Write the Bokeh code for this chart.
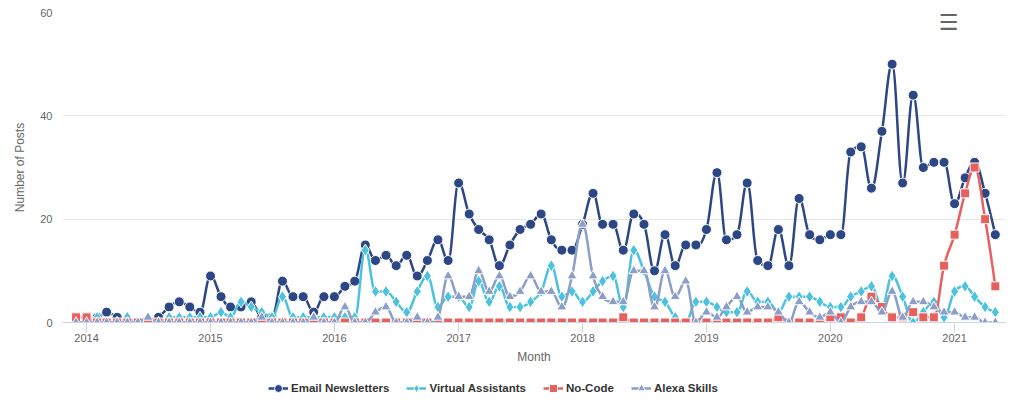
import pandas as pd
from bokeh.plotting import figure
from bokeh.layouts import column
from bokeh.models import (Range1d, FixedTicker, Legend, LegendItem, ColumnDataSource, Label)
from bokeh.embed import file_html
from bokeh.resources import INLINE

# ---------------- data ----------------
months = pd.date_range("2013-12-01", periods=90, freq="MS")

email_newsletters = [1,
    1, 1, 2, 1, 0, 0, 0, 1, 3, 4, 3, 2,
    9, 5, 3, 3, 4, 1, 1, 8, 5, 5, 2, 5,
    5, 7, 8, 15, 12, 13, 11, 13, 9, 12, 16, 12,
    27, 21, 18, 16, 11, 15, 18, 19, 21, 16, 14, 14,
    19, 25, 19, 19, 14, 21, 19, 10, 17, 11, 15, 15,
    18, 29, 16, 17, 27, 12, 11, 18, 11, 24, 17, 16,
    17, 17, 33, 34, 26, 37, 50, 27, 44, 30, 31, 31,
    23, 28, 31, 25, 17]

virtual_assistants = [0,
    0, 1, 0, 0, 1, 0, 0, 0, 1, 1, 1, 1,
    1, 2, 1, 4, 3, 2, 1, 5, 1, 1, 1, 1,
    1, 1, 1, 14, 6, 6, 4, 2, 6, 9, 3, 5,
    5, 3, 8, 4, 7, 3, 3, 4, 6, 11, 5, 6,
    4, 6, 8, 9, 3, 14, 10, 5, 4, 1, 0, 4,
    4, 3, 2, 2, 6, 4, 4, 2, 5, 5, 5, 4,
    3, 3, 5, 6, 7, 3, 9, 5, 0, 2, 4, 1,
    6, 7, 5, 3, 2]

no_code = [1,
    1, 0, 0, 0, 0, 0, 0, 0, 0, 0, 0, 0,
    0, 0, 0, 0, 0, 0, 0, 0, 0, 0, 0, 0,
    0, 0, 0, 0, 0, 0, 0, 0, 0, 0, 0, 0,
    0, 0, 0, 0, 0, 0, 0, 0, 0, 0, 0, 0,
    0, 0, 0, 0, 1, 0, 0, 0, 0, 0, 0, 0,
    0, 0, 0, 0, 0, 0, 0, 1, 0, 0, 0, 0,
    1, 1, 0, 1, 5, 3, 1, 1, 2, 1, 1, 11,
    17, 25, 30, 20, 7]

alexa_skills = [0,
    0, 0, 0, 0, 0, 0, 1, 0, 0, 0, 0, 0,
    0, 0, 0, 0, 0, 1, 0, 0, 0, 0, 1, 0,
    0, 3, 0, 0, 2, 3, 0, 0, 1, 0, 1, 9,
    5, 5, 10, 6, 9, 5, 6, 9, 6, 6, 3, 9,
    19, 9, 5, 4, 4, 10, 10, 3, 10, 5, 8, 0,
    2, 1, 3, 5, 2, 3, 3, 2, 0, 4, 2, 1,
    2, 0, 3, 4, 4, 2, 6, 1, 4, 4, 3, 2,
    2, 1, 1, 0, 0]

series_names = ["Email Newsletters", "Virtual Assistants", "No-Code", "Alexa Skills"]
year_labels = ["2014", "2015", "2016", "2017", "2018", "2019", "2020", "2021"]
y_ticks = [0, 20, 40, 60]

# ---------------- style ----------------
colors = ["#2d4785", "#4cc2de", "#e8605e", "#8b9ec8"]
markers = ["circle", "diamond", "square", "triangle"]
msizes = [10, 12, 9, 10]
FONT = "Liberation Sans"


def ms(ts):
    return ts.value / 1e6


def spline(xs, ys, smoothing=1.5):
    """Highcharts-style spline: cubic bezier segments through the data points."""
    n = len(xs)
    lc = [(xs[i], ys[i]) for i in range(n)]
    rc = [(xs[i], ys[i]) for i in range(n)]
    d = smoothing + 1
    for i in range(1, n - 1):
        px, py = xs[i], ys[i]
        lx, ly = xs[i - 1], ys[i - 1]
        nx, ny = xs[i + 1], ys[i + 1]
        lcx = (smoothing * px + lx) / d
        lcy = (smoothing * py + ly) / d
        rcx = (smoothing * px + nx) / d
        rcy = (smoothing * py + ny) / d
        if rcx != lcx:
            corr = (rcy - lcy) * (rcx - px) / (rcx - lcx) + py - rcy
            lcy += corr
            rcy += corr
            if lcy > ly and lcy > py:
                lcy = max(ly, py); rcy = 2 * py - lcy
            elif lcy < ly and lcy < py:
                lcy = min(ly, py); rcy = 2 * py - lcy
            if rcy > ny and rcy > py:
                rcy = max(ny, py); lcy = 2 * py - rcy
            elif rcy < ny and rcy < py:
                rcy = min(ny, py); lcy = 2 * py - rcy
        lc[i] = (lcx, lcy)
        rc[i] = (rcx, rcy)
    seg = dict(x0=[], y0=[], x1=[], y1=[], cx0=[], cy0=[], cx1=[], cy1=[])
    for i in range(1, n):
        seg["x0"].append(xs[i - 1]); seg["y0"].append(ys[i - 1])
        seg["x1"].append(xs[i]); seg["y1"].append(ys[i])
        seg["cx0"].append(rc[i - 1][0]); seg["cy0"].append(rc[i - 1][1])
        seg["cx1"].append(lc[i][0]); seg["cy1"].append(lc[i][1])
    return seg


xms = [ms(t) for t in months]

p = figure(width=1024, height=373, x_axis_type="datetime",
           output_backend="svg", toolbar_location=None,
           min_border_left=62, min_border_right=19, min_border_top=12, min_border_bottom=51,
           x_range=Range1d(ms(pd.Timestamp("2013-10-22")), ms(pd.Timestamp("2021-05-31"))),
           y_range=Range1d(0, 60))
p.outline_line_color = None
p.background_fill_color = "white"
p.border_fill_color = "white"

# axes
p.xgrid.grid_line_color = None
p.ygrid.grid_line_color = "#e6e6e6"
p.ygrid.ticker = FixedTicker(ticks=y_ticks)

year_ms = [ms(pd.Timestamp(f"{y}-01-01")) for y in year_labels]
xa = p.xaxis[0]
xa.ticker = FixedTicker(ticks=year_ms)
xa.major_label_overrides = {v: lab for v, lab in zip(year_ms, year_labels)}
xa.axis_line_color = "#ccd6eb"
xa.major_tick_line_color = "#ccd6eb"
xa.major_tick_out = 10
xa.major_tick_in = 0
xa.minor_tick_line_color = None
xa.major_label_standoff = 1
xa.major_label_text_font = FONT
xa.major_label_text_font_size = "11px"
xa.major_label_text_color = "#666666"
xa.axis_label = "Month"
xa.axis_label_text_font = FONT
xa.axis_label_text_font_size = "12px"
xa.axis_label_text_font_style = "normal"
xa.axis_label_text_color = "#666666"
xa.axis_label_standoff = 5

ya = p.yaxis[0]
ya.ticker = FixedTicker(ticks=y_ticks)
ya.axis_line_color = None
ya.major_tick_line_color = None
ya.minor_tick_line_color = None
ya.major_tick_out = 0
ya.major_tick_in = 0
ya.major_label_standoff = 10
ya.major_label_text_font = FONT
ya.major_label_text_font_size = "11px"
ya.major_label_text_color = "#666666"
ya.axis_label = "Number of Posts"
ya.axis_label_text_font = FONT
ya.axis_label_text_font_size = "12px"
ya.axis_label_text_font_style = "normal"
ya.axis_label_text_color = "#666666"
ya.axis_label_standoff = 10

# series
for vals, col, mk, sz in zip([email_newsletters, virtual_assistants, no_code, alexa_skills],
                             colors, markers, msizes):
    seg = spline(xms, [float(v) for v in vals])
    p.bezier(x0="x0", y0="y0", x1="x1", y1="y1", cx0="cx0", cy0="cy0", cx1="cx1", cy1="cy1",
             source=ColumnDataSource(seg), line_color=col, line_width=2.5)
    p.scatter(x=months, y=vals, marker=mk, size=sz, fill_color=col,
              line_color="white", line_width=1)

# export menu icon
p.add_layout(Label(x=886, y=300, x_units="screen", y_units="screen", text="☰",
                   text_font="DejaVu Sans", text_font_size="22px", text_color="#666666",
                   text_align="center", text_baseline="middle"))

# ---------------- legend strip ----------------
lg = figure(width=1024, height=30, output_backend="svg", toolbar_location=None,
            min_border=0, x_axis_location=None, y_axis_location=None,
            x_range=Range1d(0, 1), y_range=Range1d(0, 1))
lg.grid.grid_line_color = None
lg.outline_line_color = None
items = []
nan = float("nan")
for name, col, mk, sz in zip(series_names, colors, markers, msizes):
    lr = lg.line(x=[nan], y=[nan], line_color=col, line_width=2.5)
    sr = lg.scatter(x=[nan], y=[nan], marker=mk, size=sz, fill_color=col,
                    line_color="white", line_width=1)
    items.append(LegendItem(label=name, renderers=[lr, sr]))
legend = Legend(items=items, orientation="horizontal", location=(206, 5),
                label_text_font=FONT, label_text_font_size="11.5px", label_text_font_style="bold",
                label_text_color="#333333", glyph_width=20, glyph_height=20, label_height=20,
                label_standoff=3, spacing=17, padding=0, margin=0,
                border_line_color=None, background_fill_alpha=0)
lg.add_layout(legend, "center")

layout = column(p, lg, spacing=0)
open("out.html", "w").write(file_html(layout, INLINE))
